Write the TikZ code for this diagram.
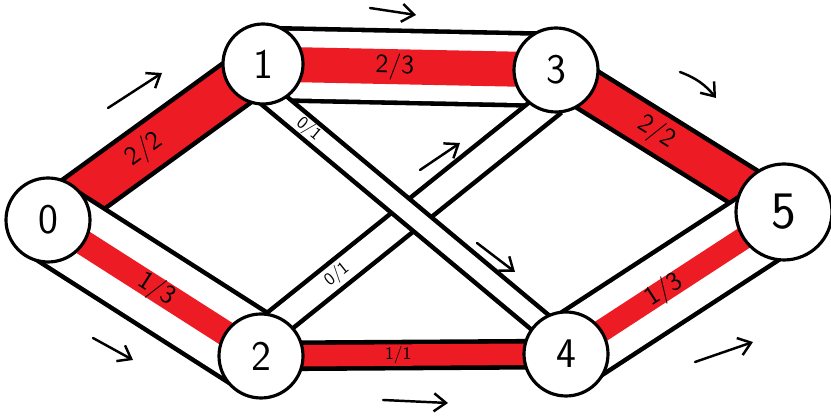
\documentclass[tikz,border=0pt]{standalone}
\usetikzlibrary{arrows.meta, backgrounds}
\definecolor{paintred}{RGB}{237,28,36}

\begin{document}
\begin{tikzpicture}[
  font=\sffamily,
  >={Straight Barb[length=2.4mm, width=3.6mm]},
  %% Node styles
  station/.style={
    circle, draw, line width=1.8pt, fill=white,
    minimum size=1.68cm, inner sep=0pt,
    font=\sffamily\fontsize{24}{24}\selectfont
  },
  %% Pipe styles
  pipe/.style={
    draw=black, line width=2.6pt, double=white, double distance=#1
  },
  fullpipe/.style={pipe=#1, double=paintred},
  band/.style={draw=paintred, line width=#1},
  %% Labels and arrows
  flowlabel/.style={
    sloped, inner sep=1pt, font=\sffamily\fontsize{15}{15}\selectfont
  },
  smalllabel/.style={
    sloped, inner sep=1pt, font=\sffamily\fontsize{10}{10}\selectfont
  },
  flowarrow/.style={->, line width=1.4pt, line cap=round},
]
\useasboundingbox (0,0) rectangle (16.62,8.32);

%% ── NODES ─────────────────────────────────────────────────────────────────
\node[station] (v0) at ( 0.96, 3.92) {0};
\node[station, minimum size=1.6cm] (v1) at ( 5.26, 7.04) {1};
\node[station] (v2) at ( 5.22, 1.20) {2};
\node[station] (v3) at (11.12, 6.92) {3};
\node[station] (v4) at (11.32, 1.24) {4};
\node[station, minimum size=1.92cm, font=\sffamily\fontsize{30}{30}\selectfont]
  (v5) at (15.68, 4.08) {5};

%% ── PIPES ─────────────────────────────────────────────────────────────────
\begin{scope}[on background layer]
  \draw[fullpipe=0.87cm] (v0.center) -- (v1.center);
  \draw[pipe=1.35cm]     (v1.center) -- (v3.center);
  \draw[band=0.7cm]      (v1.center) -- (v3.center);
  \draw[fullpipe=0.75cm] (v3.center) -- (v5.center);
  \draw[pipe=1.5cm]      (v0.center) -- (v2.center);
  \draw[band=0.5cm]      (v0.center) -- (v2.center);
  \draw[fullpipe=0.43cm] (v2.center) -- (v4.center);
  \draw[pipe=1.4cm]      (v4.center) -- (v5.center);
  \draw[band=0.45cm]     (v4.center) -- (v5.center);
  %% crossing pipes, 1-4 lies over 2-3
  \draw[pipe=0.47cm, shorten <=-0.3cm, shorten >=-0.3cm] (v2.60) -- (v3.-110);
  \draw[pipe=0.35cm, shorten <=-0.3cm, shorten >=-0.3cm] (v1.-70) -- (v4.130);
\end{scope}

%% ── FLOW / CAPACITY ───────────────────────────────────────────────────────
\path (v0.center) -- (v1.center) node[flowlabel, pos=.45] {2/2};
\path (v1.center) -- (v3.center) node[flowlabel, pos=.45] {2/3};
\path (v3.center) -- (v5.center) node[flowlabel, pos=.44] {2/2};
\path (v0.center) -- (v2.center) node[flowlabel, pos=.51] {1/3};
\path (v4.center) -- (v5.center) node[flowlabel, pos=.45] {1/3};
\path (v2.center) -- (v4.center) node[smalllabel, pos=.45] {1/1};
\path (v1.-70) -- (v4.130) node[smalllabel, pos=.12] {0/1};
\path (v2.60) -- (v3.-110) node[smalllabel, pos=.21] {0/1};

%% ── DIRECTION ARROWS ──────────────────────────────────────────────────────
\coordinate (a01s) at ( 2.16, 6.16); \coordinate (a01e) at ( 3.24, 6.86);
\coordinate (a13s) at ( 7.40, 8.16); \coordinate (a13e) at ( 8.32, 8.02);
\coordinate (a35s) at (13.60, 6.88); \coordinate (a35e) at (14.32, 6.36);
\coordinate (a23s) at ( 8.40, 4.92); \coordinate (a23e) at ( 9.20, 5.46);
\coordinate (a14s) at ( 9.54, 3.46); \coordinate (a14e) at (10.30, 2.88);
\coordinate (a02s) at ( 1.86, 1.56); \coordinate (a02e) at ( 2.66, 1.12);
\coordinate (a24s) at ( 7.66, 0.32); \coordinate (a24e) at ( 8.96, 0.26);
\coordinate (a45s) at (13.90, 1.08); \coordinate (a45e) at (15.06, 1.48);

\foreach \e in {01, 13, 23, 14, 02, 24, 45}
  \draw[flowarrow] (a\e s) -- (a\e e);
\draw[flowarrow] (a35s) to[bend left=15] (a35e);

\end{tikzpicture}
\end{document}
